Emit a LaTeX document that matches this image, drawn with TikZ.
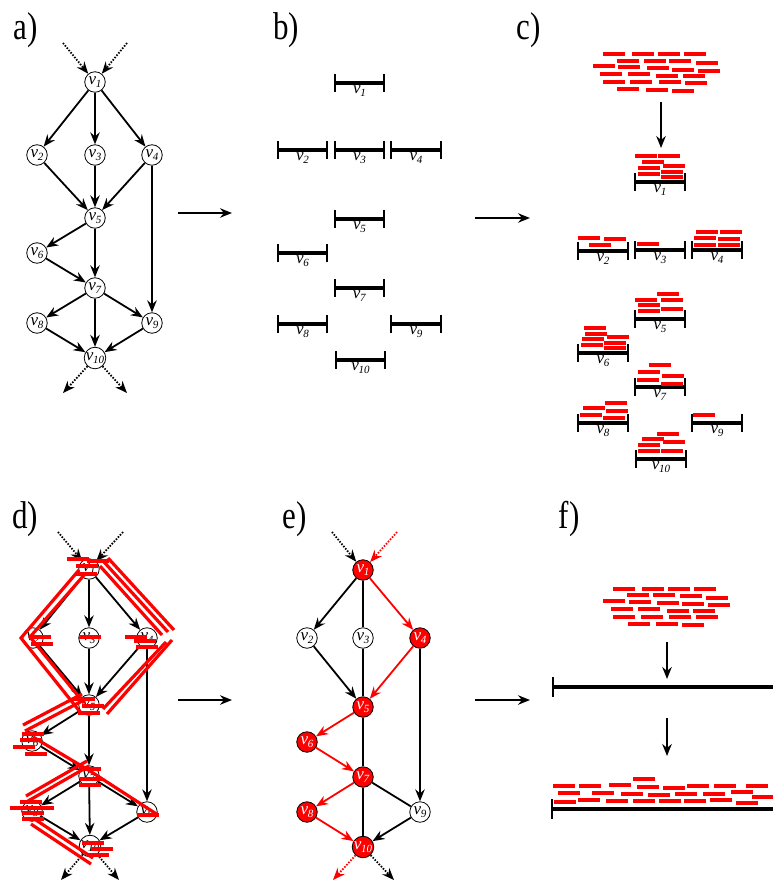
\documentclass[tikz,border=0pt]{standalone}
\usepackage{fontspec}
\setmainfont{Liberation Serif}
\usetikzlibrary{arrows.meta}
\newcommand\vl[1]{\fontsize{17}{17}\selectfont\textit{v}\kern-0.3pt\raisebox{-0.45ex}{\fontsize{11}{11}\selectfont\textit{#1}}}
\newcommand\plab[1]{\scalebox{1}[1.25]{\fontsize{31}{31}\selectfont #1}}
\newcommand\brk[2]{\fill[red] ({#1-11},{#2-2.2}) rectangle ({#1+11},{#2+2.2});}
\newcommand\dbrk[2]{\fill[red] ({#1-11},{#2-1.8}) rectangle ({#1+11},{#2+1.8});}
\newcommand\vbar[5]{%
  \draw[barl] (#2,#4) -- (#3,#4);
  \draw[tickl] (#2,{#4-9}) -- (#2,{#4+9});
  \draw[tickl] (#3,{#4-9}) -- (#3,{#4+9});
  \node[lbl] (#1) at ({(#2+#3)/2},{#4+2}) {\vl{#5}};}
\tikzset{
  vnode/.style={circle,draw,line width=0.8pt,minimum size=20.5pt,inner sep=0pt,fill=white},
  rnode/.style={vnode,fill=red,text=white},
  arr/.style={line width=1.8pt,-{Stealth[length=12pt,width=9.5pt,inset=4pt]}},
  plainl/.style={line width=1.8pt},
  dotarr/.style={arr,dash pattern=on 1.5pt off 1.5pt},
  redl/.style={red,line width=3.2pt},
  barl/.style={line width=4pt},
  tickl/.style={line width=2.2pt},
  lbl/.style={inner sep=0pt,anchor=north},
  panel/.style={inner sep=0pt}
}
\begin{document}
\begin{tikzpicture}[x=1pt,y=-1pt]
\useasboundingbox (0,0) rectangle (773,883);
% panel labels
\node[panel] (la) at (26,30) {\plab{a)}};
\node[panel] (lb) at (286,30) {\plab{b)}};
\node[panel] (lc) at (529,30) {\plab{c)}};
\node[panel] (ld) at (25,519) {\plab{d)}};
\node[panel] (le) at (295,519) {\plab{e)}};
\node[panel] (lf) at (569,519) {\plab{f)}};

% ---------- panel a
\foreach \n/\x/\y in {1/95/82,2/37/155,3/95/155,4/152/155,5/95/218,6/37/253,7/95/288,8/37/323,9/152/323,10/95/358}
  {\node[vnode] (a\n) at (\x,\y) {\vl{\n}};}
\foreach \s/\t in {1/2,1/3,1/4,2/5,3/5,4/5,4/9,5/6,5/7,6/7,7/8,7/9,7/10,8/10,9/10}
  {\draw[arr] (a\s) -- (a\t);}
\coordinate (ai1) at (63,43); \coordinate (ai2) at (127,43);
\coordinate (ao1) at (63,393); \coordinate (ao2) at (127,393);
\draw[dotarr] (ai1) -- (a1); \draw[dotarr] (ai2) -- (a1);
\draw[dotarr] (a10) -- (ao1); \draw[dotarr] (a10) -- (ao2);

% ---------- panel b
\vbar{b1}{335}{384}{83}{1}
\vbar{b2}{278}{327}{150}{2}
\vbar{b3}{335}{384}{150}{3}
\vbar{b4}{391}{441}{150}{4}
\vbar{b5}{335}{384}{219}{5}
\vbar{b6}{278}{327}{253}{6}
\vbar{b7}{335}{384}{288}{7}
\vbar{b8}{278}{327}{324}{8}
\vbar{b9}{391}{441}{324}{9}
\vbar{b10}{336}{385}{360}{10}

% ---------- panel c
\foreach \x/\y in {614/54,643/54,669/54,695/54,628/61,655/61,680/61,707/63,604/66,629/67,658/68,683/70,709/71,611/74,639/74,667/76,694/76,614/82,641/82,670/82,696/83,628/89,657/90,683/91}
  {\brk{\x}{\y}}
\coordinate (ca1) at (661,102); \coordinate (ca2) at (661,148);
\draw[arr] (ca1) -- (ca2);
\vbar{c1}{635}{685}{182}{1}
\vbar{c2}{578}{628}{251}{2}
\vbar{c3}{635}{685}{250}{3}
\vbar{c4}{692}{742}{250}{4}
\vbar{c5}{635}{685}{319}{5}
\vbar{c6}{578}{628}{353}{6}
\vbar{c7}{635}{685}{387}{7}
\vbar{c8}{578}{628}{423}{8}
\vbar{c9}{692}{742}{423}{9}
\vbar{c10}{636}{686}{459}{10}
\foreach \x/\y in {646/156,669/156,653/162,649/168,674/166,649/174,672/172,672/177,
  589/238,615/239,600/245, 648/244,
  707/232,731/232,705/238,729/239,705/245,729/245,
  668/294,646/300,672/300,649/305,672/309,649/311,
  595/328,596/334,593/339,618/337,592/345,615/343,615/348,
  660/365,649/372,673/376,648/380,672/384,
  616/403,594/408,617/411,591/415,614/418,
  704/415,
  668/434,653/439,674/442,649/445,649/451,672/451}
  {\brk{\x}{\y}}

% ---------- arrows between panels
\coordinate (p1) at (178,213); \coordinate (p2) at (232,213);
\coordinate (p3) at (475,218); \coordinate (p4) at (530,218);
\coordinate (p5) at (178,700); \coordinate (p6) at (232,700);
\coordinate (p7) at (475,700); \coordinate (p8) at (530,700);
\draw[arr] (p1) -- (p2); \draw[arr] (p3) -- (p4);
\draw[arr] (p5) -- (p6); \draw[arr] (p7) -- (p8);

% ---------- panel d
\foreach \n/\x/\y in {1/89/569,2/33/638,3/89/638,4/147/638,5/89/705,6/32/741,7/89/776,8/32/811,9/147/812,10/90/846}
  {\node[vnode] (d\n) at (\x,\y) {\vl{\n}};}
\foreach \s/\t in {1/2,1/3,1/4,2/5,3/5,4/5,4/9,5/6,5/7,6/7,7/8,7/9,7/10,8/10,9/10}
  {\draw[arr] (d\s) -- (d\t);}
\coordinate (di1) at (58,532); \coordinate (di2) at (123,532);
\coordinate (do1) at (61,880); \coordinate (do2) at (119,880);
\draw[dotarr] (di1) -- (d1); \draw[dotarr] (di2) -- (d1);
\draw[dotarr] (d10) -- (do1); \draw[dotarr] (d10) -- (do2);
% red paths
\draw[redl] (79,570) -- (21,638) -- (81,713);
\draw[redl] (85,574) -- (30,637) -- (84,703);
\draw[redl] (108,558) -- (174,630);
\draw[redl] (104,562) -- (168,632);
\draw[redl] (100,566) -- (162,635);
\draw[redl] (172,640) -- (107,714);
\draw[redl] (166,642) -- (103,709);
\draw[redl] (82,694) -- (23,725);
\draw[redl] (84,700) -- (25,731);
\draw[redl] (33,737) -- (90,771) -- (158,815);
\draw[redl] (87,761) -- (26,796);
\draw[redl] (89,766) -- (28,801);
\draw[redl] (33,818) -- (93,858);
\draw[redl] (31,824) -- (91,864);
% red bricks at nodes
\foreach \x/\y in {78/559,98/561,87/566,86/574,
  40/637,42/644, 90/637, 136/637,145/641,147/647,
  84/699,93/706,89/713,
  33/734,31/740,24/747,36/754,
  90/769,91/779,90/785,
  31/802,21/808,43/808,33/813,33/819,
  148/815, 93/843,102/849,98/855}
  {\dbrk{\x}{\y}}

% ---------- panel e
\foreach \n/\x/\y in {1/363/570,4/420/638,5/363/707,6/307/742,7/363/777,8/307/812,10/363/847}
  {\node[rnode] (e\n) at (\x,\y) {\vl{\n}};}
\foreach \n/\x/\y in {2/307/638,3/363/638,9/420/812}
  {\node[vnode] (e\n) at (\x,\y) {\vl{\n}};}
\foreach \s/\t in {1/2,2/5,4/9,9/10}
  {\draw[arr] (e\s) -- (e\t);}
\foreach \s/\t in {1/4,4/5,5/6,6/7,7/8,8/10}
  {\draw[arr,red] (e\s) -- (e\t);}
\foreach \s/\t in {1/3,3/5,5/7,7/9,7/10}
  {\draw[plainl] (e\s) -- (e\t);}
\coordinate (ei1) at (332,532); \coordinate (ei2) at (397,532);
\coordinate (eo1) at (333,880); \coordinate (eo2) at (394,880);
\draw[dotarr] (ei1) -- (e1); \draw[dotarr,red] (ei2) -- (e1);
\draw[dotarr,red] (e10) -- (eo1); \draw[dotarr] (e10) -- (eo2);

% ---------- panel f
\foreach \x/\y in {624/589,653/589,679/589,705/589,638/595,664/595,691/596,717/598,614/601,640/602,668/603,693/604,719/605,622/609,649/609,678/611,704/611,624/617,652/617,680/617,707/617,639/624,667/624,693/625}
  {\brk{\x}{\y}}
\coordinate (fa1) at (667,642); \coordinate (fa2) at (667,679);
\coordinate (fa3) at (667,718); \coordinate (fa4) at (667,756);
\draw[arr] (fa1) -- (fa2); \draw[arr] (fa3) -- (fa4);
\coordinate (fb1) at (553,687); \coordinate (fb2) at (773,687);
\draw[line width=4.5pt] (fb1) -- (fb2);
\draw[tickl] (553,677) -- (553,697);
\coordinate (fc1) at (552,809); \coordinate (fc2) at (773,809);
\draw[line width=4.5pt] (fc1) -- (fc2);
\draw[tickl] (552,799) -- (552,819);
\begin{scope}
\clip (540,760) rectangle (773,830);
\foreach \x/\y in {644/779,564/786,590/786,620/785,648/787,674/788,698/786,725/786,757/786,
  569/793,603/793,632/794,659/795,686/794,714/794,742/792,763/797,
  565/802,589/800,617/801,644/801,670/801,695/801,721/800,747/803}
  {\brk{\x}{\y}}
\end{scope}
\end{tikzpicture}
\end{document}
